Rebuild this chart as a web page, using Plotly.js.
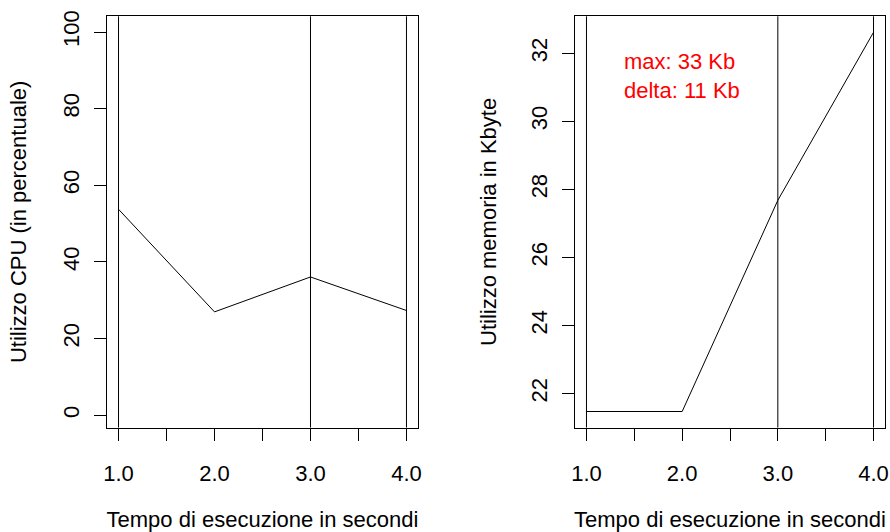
<!DOCTYPE html>
<html><head><meta charset="utf-8">
<script src="https://cdn.plot.ly/plotly-3.0.1.min.js"></script>
<style>html,body{margin:0;padding:0;background:#fff}</style>
</head><body><div id="chart" style="width:890px;height:532px"></div>
<script>
const tempo = [1, 2, 3, 4];
const cpu = [53.75, 26.97, 36.08, 27.33];
const memoria = [21.47, 21.47, 27.68, 32.62];
const vlines = [1, 3, 4];
const xTickVals = [1, 1.5, 2, 2.5, 3, 3.5, 4];
const xTickText = ["1.0", "", "2.0", "", "3.0", "", "4.0"];
const cpuTickVals = [0, 20, 40, 60, 80, 100];
const memTickVals = [22, 24, 26, 28, 30, 32];
const note = ["max: 33 Kb", "delta: 11 Kb"];
const xTitle = "Tempo di esecuzione in secondi";
const cpuTitle = "Utilizzo CPU (in percentuale)";
const memTitle = "Utilizzo memoria in Kbyte";

const FONT = "Liberation Sans, Arial, Helvetica, sans-serif";
const FS = 22;

function xAxis(domain, anchor) {
  return {
    domain: domain, anchor: anchor, range: [0.88, 4.12],
    tickmode: 'array', tickvals: xTickVals, ticktext: xTickText,
    ticks: 'outside', ticklen: 12, tickwidth: 1, tickcolor: '#000',
    showline: true, mirror: true, linecolor: '#000', linewidth: 1,
    showgrid: false, zeroline: false, ticklabelstandoff: 14,
    tickfont: {family: FONT, size: FS, color: '#000'},
    title: {text: xTitle, font: {family: FONT, size: FS, color: '#000'}, standoff: 28},
    automargin: false
  };
}
function yAxis(domain, anchor, range, tickvals) {
  return {
    domain: domain, anchor: anchor, range: range,
    tickmode: 'array', tickvals: tickvals, tickangle: -90,
    ticks: 'outside', ticklen: 12, tickwidth: 1, tickcolor: '#000',
    showline: true, mirror: true, linecolor: '#000', linewidth: 1,
    showgrid: false, zeroline: false, ticklabelstandoff: 6,
    tickfont: {family: FONT, size: FS, color: '#000'},
    automargin: false
  };
}

const yd = [1 - 427.5/532, 1 - 16.3/532];
const layout = {
  width: 890, height: 532,
  margin: {l: 0, r: 0, t: 0, b: 0},
  paper_bgcolor: '#fff', plot_bgcolor: '#fff',
  showlegend: false,
  font: {family: FONT, size: FS, color: '#000'},
  xaxis: xAxis([107/890, 418/890], 'y'),
  xaxis2: xAxis([575/890, 885/890], 'y2'),
  yaxis: Object.assign(yAxis(yd, 'x', [-3.2, 104.1], cpuTickVals),
    {title: {text: cpuTitle, font: {family: FONT, size: FS, color: '#000'}, standoff: 26}}),
  yaxis2: Object.assign(yAxis(yd, 'x2', [21.0, 33.09], memTickVals),
    {title: {text: memTitle, font: {family: FONT, size: FS, color: '#000'}, standoff: 24}}),
  shapes: [],
  annotations: [{
    xref: 'x2', yref: 'y2', x: 1.375, y: 31.34,
    xanchor: 'left', yanchor: 'middle', align: 'left',
    text: note.join('<br>'), showarrow: false,
    font: {family: FONT, size: FS, color: '#ff0000'}
  }]
};
vlines.forEach(v => {
  layout.shapes.push({type: 'line', xref: 'x', yref: 'y domain', x0: v, x1: v, y0: 0, y1: 1, line: {color: '#000', width: 1}});
  layout.shapes.push({type: 'line', xref: 'x2', yref: 'y2 domain', x0: v, x1: v, y0: 0, y1: 1, line: {color: '#000', width: 1}});
});

const traces = [
  {x: tempo, y: cpu, type: 'scatter', mode: 'lines', line: {color: '#000', width: 1}, xaxis: 'x', yaxis: 'y', hoverinfo: 'skip'},
  {x: tempo, y: memoria, type: 'scatter', mode: 'lines', line: {color: '#000', width: 1}, xaxis: 'x2', yaxis: 'y2', hoverinfo: 'skip'}
];
Plotly.newPlot('chart', traces, layout, {displayModeBar: false, staticPlot: true});
</script></body></html>
